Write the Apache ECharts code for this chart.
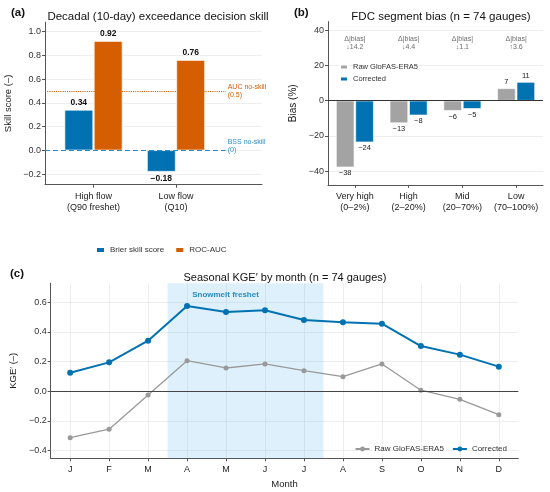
<!DOCTYPE html>
<html>
<head>
  <meta charset="utf-8">
  <title>echarts</title>
  <script src="https://cdn.jsdelivr.net/npm/echarts@6/dist/echarts.min.js"></script>
  <style type="text/css">
    body {
      margin: 0;
      padding: 0;
      background: #fff;
    }
    .chart-box {
      width: 550px;
      height: 492px;
    }
  </style>
</head>
<body>
<div id="main" class="chart-box"></div>
<script>
// panel (a): decadal exceedance decision skill
const A_CATEGORIES = ['High flow\n(Q90 freshet)', 'Low flow\n(Q10)'];
const A_BSS = [0.34, -0.18];
const A_AUC = [0.92, 0.76];
const A_TICKS = [-0.2, 0, 0.2, 0.4, 0.6, 0.8, 1.0];

// panel (b): FDC segment bias
const B_CATEGORIES = ['Very high\n(0\u20132%)', 'High\n(2\u201320%)', 'Mid\n(20\u201370%)', 'Low\n(70\u2013100%)'];
const B_RAW = [-37.8, -12.7, -5.7, 7.0];
const B_CORRECTED = [-23.6, -8.3, -4.6, 10.6];
const B_TICKS = [-40, -20, 0, 20, 40];

// panel (c): seasonal KGE' by month
const MONTHS = ['Jan', 'Feb', 'Mar', 'Apr', 'May', 'Jun', 'Jul', 'Aug', 'Sep', 'Oct', 'Nov', 'Dec'];
const C_RAW = [-0.313, -0.256, -0.025, 0.206, 0.157, 0.184, 0.139, 0.098, 0.184, 0.007, -0.054, -0.158];
const C_CORRECTED = [0.125, 0.195, 0.341, 0.575, 0.535, 0.546, 0.481, 0.465, 0.456, 0.305, 0.247, 0.166];
const C_TICKS = [-0.4, -0.2, 0, 0.2, 0.4, 0.6];

const BLUE = '#0072B2';
const ORANGE = '#D55E00';
const GREY = '#a3a3a3';
const AXIS = '#555';
const GRID = '#e6e6e6';
const FONT = '"Liberation Sans", Arial, sans-serif';

const minus = (s) => String(s).replace('-', '\u2212');

// |raw| - |corrected|, shown as arrow + magnitude
const B_DELTA = B_RAW.map((r, i) => {
  const d = Math.abs(r) - Math.abs(B_CORRECTED[i]);
  return 'Δ|bias|\n' + (d >= 0 ? '↓' : '↑') + Math.abs(d).toFixed(1);
});

const barData = (arr) => arr.map(v => ({
  value: v,
  label: {position: v < 0 ? 'bottom' : 'top'},
}));

const valueAxisBase = (grid, min, max, ticks, fmt) => ({
  gridIndex: grid,
  type: 'value',
  min: min,
  max: max,
  axisLine: {show: true, onZero: false, lineStyle: {color: AXIS, width: 1}},
  axisTick: {show: true, length: 3, lineStyle: {color: AXIS}, customValues: ticks},
  axisLabel: {fontSize: 9, color: '#333', margin: 4, customValues: ticks, formatter: fmt},
  splitLine: {show: true, lineStyle: {color: GRID, width: 0.7}},
});

const catLabel = {fontSize: 9, color: '#222', margin: 6, lineHeight: 11, interval: 0};

const option = {
  animation: false,
  backgroundColor: '#fff',
  textStyle: {fontFamily: FONT},
  title: [
    {text: '(a)', left: 6, top: 2, textStyle: {fontSize: 11.5, fontWeight: 'bold', color: '#111'}},
    {text: 'Decadal (10-day) exceedance decision skill', left: 153, top: 6, textAlign: 'center',
      textStyle: {fontSize: 11.5, fontWeight: 'normal', color: '#111'}},
    {text: '(b)', left: 289, top: 2, textStyle: {fontSize: 11.5, fontWeight: 'bold', color: '#111'}},
    {text: 'FDC segment bias (n = 74 gauges)', left: 436, top: 6, textAlign: 'center',
      textStyle: {fontSize: 11.5, fontWeight: 'normal', color: '#111'}},
    {text: '(c)', left: 5, top: 263, textStyle: {fontSize: 11.5, fontWeight: 'bold', color: '#111'}},
    {text: 'Seasonal KGE\u2032 by month (n = 74 gauges)', left: 280, top: 267, textAlign: 'center',
      textStyle: {fontSize: 11, fontWeight: 'normal', color: '#111'}},
  ],
  legend: [
    {
      left: 90, top: 241, itemWidth: 9, itemHeight: 6, itemGap: 10,
      textStyle: {fontSize: 8, color: '#333'},
      data: [{name: 'Brier skill score', icon: 'rect'}, {name: 'ROC-AUC', icon: 'rect'}],
    },
    {
      left: 334, top: 58, orient: 'vertical', itemWidth: 8, itemHeight: 5, itemGap: 4,
      textStyle: {fontSize: 7.5, color: '#333'},
      data: [{name: 'Raw GloFAS-ERA5', icon: 'rect'}, {name: 'Corrected', icon: 'rect'}],
    },
    {
      right: 38, top: 440, itemWidth: 14, itemHeight: 6, itemGap: 8,
      textStyle: {fontSize: 8, color: '#333'},
      formatter: (name) => name.trim(),
      data: ['Raw GloFAS-ERA5 ', 'Corrected '],
    },
  ],
  grid: [
    {left: 45, top: 22.1, width: 217, height: 162.6},
    {left: 52.25, top: 22.1, width: 165, height: 162.6},
    {left: 328, top: 21.6, width: 215, height: 163.3},
    {left: 41.7, top: 283.3, width: 476.6, height: 175},
  ],
  xAxis: [
    {gridIndex: 0, type: 'value', min: -0.59, max: 2.04,
      axisLine: {show: true, onZero: false, lineStyle: {color: AXIS, width: 1}},
      axisTick: {show: false}, axisLabel: {show: false}, splitLine: {show: false}},
    {gridIndex: 1, type: 'category', data: A_CATEGORIES,
      axisLine: {show: false, onZero: false},
      axisTick: {show: true, alignWithLabel: true, length: 3, lineStyle: {color: AXIS}},
      axisLabel: catLabel},
    {gridIndex: 2, type: 'category', data: B_CATEGORIES,
      axisLine: {show: true, onZero: false, lineStyle: {color: AXIS, width: 1}},
      axisTick: {show: true, alignWithLabel: true, length: 3, lineStyle: {color: AXIS}},
      axisLabel: catLabel},
    {gridIndex: 3, type: 'category', data: MONTHS,
      name: 'Month', nameLocation: 'middle', nameGap: 21, nameTextStyle: {fontSize: 9.5, color: '#222'},
      axisLine: {show: true, onZero: false, lineStyle: {color: AXIS, width: 1}},
      axisTick: {show: true, alignWithLabel: true, length: 3, lineStyle: {color: AXIS}},
      axisLabel: Object.assign({}, catLabel, {formatter: (m) => m[0]})},
    {gridIndex: 3, type: 'value', min: -0.5, max: 11.5, show: true,
      axisLine: {show: false, onZero: false}, axisTick: {show: false, customValues: MONTHS.map((m, i) => i)},
      axisLabel: {show: false},
      splitLine: {show: true, lineStyle: {color: GRID, width: 0.7}}},
  ],
  yAxis: [
    Object.assign(valueAxisBase(0, -0.29, 1.08, A_TICKS, (v) => minus(v.toFixed(1))), {
      name: 'Skill score (\u2013)', nameLocation: 'middle', nameGap: 32,
      nameTextStyle: {fontSize: 9.5, color: '#222'},
    }),
    {gridIndex: 1, type: 'value', min: -0.29, max: 1.08, show: false},
    Object.assign(valueAxisBase(2, -47.8, 44.9, B_TICKS, (v) => minus(v)), {
      name: 'Bias (%)', nameLocation: 'middle', nameGap: 30,
      nameTextStyle: {fontSize: 10, color: '#222'},
    }),
    Object.assign(valueAxisBase(3, -0.452, 0.728, C_TICKS, (v) => minus(v.toFixed(1))), {
      name: 'KGE\u2032 (\u2013)', nameLocation: 'middle', nameGap: 29,
      nameTextStyle: {fontSize: 9.5, color: '#222'},
    }),
  ],
  series: [
    // (a) no-skill reference lines on the wide frame
    {
      type: 'line', xAxisIndex: 0, yAxisIndex: 0, data: [], silent: true,
      markLine: {
        symbol: 'none', silent: true,
        data: [
          [{coord: [-0.59, 0.5], lineStyle: {color: ORANGE, type: 'dotted', width: 1.1},
            label: {color: ORANGE}}, {coord: [1.6, 0.5]}],
          [{coord: [-0.59, 0], lineStyle: {color: '#2b8cc4', type: [5, 3], width: 1.2},
            label: {color: '#2b8cc4', offset: [0, -4]}}, {coord: [1.6, 0]}],
        ],
        label: {
          show: true, position: 'end', distance: 2, fontSize: 7, lineHeight: 8.5, align: 'left',
          formatter: (p) => p.dataIndex === 0 ? 'AUC no-skill\n(0.5)' : 'BSS no-skill\n(0)',
        },
      },
    },
    {
      name: 'Brier skill score', type: 'bar', xAxisIndex: 1, yAxisIndex: 1,
      data: barData(A_BSS), barWidth: 28.5, barGap: '3%',
      itemStyle: {color: BLUE, borderColor: '#fff', borderWidth: 0.6},
      label: {show: true, distance: 3, fontSize: 8.5, fontWeight: 'bold', color: '#111',
        formatter: (p) => minus(p.value.toFixed(2))},
    },
    {
      name: 'ROC-AUC', type: 'bar', xAxisIndex: 1, yAxisIndex: 1,
      data: barData(A_AUC), barWidth: 28.5, barGap: '3%',
      itemStyle: {color: ORANGE, borderColor: '#fff', borderWidth: 0.6},
      label: {show: true, distance: 3, fontSize: 8.5, fontWeight: 'bold', color: '#111',
        formatter: (p) => minus(p.value.toFixed(2))},
    },
    // (b)
    {
      name: 'Raw GloFAS-ERA5', type: 'bar', xAxisIndex: 2, yAxisIndex: 2,
      data: barData(B_RAW), barWidth: 18.3, barGap: '6%',
      itemStyle: {color: GREY, borderColor: '#fff', borderWidth: 0.6},
      label: {show: true, distance: 2, fontSize: 7.5, color: '#222',
        formatter: (p) => minus(Math.round(p.value))},
      markLine: {
        symbol: 'none', silent: true, label: {show: false},
        lineStyle: {color: '#333', type: 'solid', width: 1},
        data: [{yAxis: 0}],
      },
    },
    {
      name: 'Corrected', type: 'bar', xAxisIndex: 2, yAxisIndex: 2,
      data: barData(B_CORRECTED), barWidth: 18.3, barGap: '6%',
      itemStyle: {color: BLUE, borderColor: '#fff', borderWidth: 0.6},
      label: {show: true, distance: 2, fontSize: 7.5, color: '#222',
        formatter: (p) => minus(Math.round(p.value))},
    },
    {
      type: 'scatter', xAxisIndex: 2, yAxisIndex: 2, symbolSize: 0, silent: true,
      data: B_DELTA.map(() => 32.7),
      label: {show: true, position: 'inside', fontSize: 7, lineHeight: 7.5, color: '#444',
        formatter: (p) => B_DELTA[p.dataIndex]},
    },
    // (c) freshet shading, zero line
    {
      type: 'line', xAxisIndex: 4, yAxisIndex: 3, data: [], silent: true,
      markArea: {
        silent: true,
        itemStyle: {color: 'rgba(86,180,233,0.2)'},
        label: {show: true, position: 'insideTop', offset: [-20, 2], fontSize: 8, fontWeight: 'bold',
          color: '#2b8cc4'},
        data: [[{name: 'Snowmelt freshet', xAxis: 2.5}, {xAxis: 6.5}]],
      },
      markLine: {
        symbol: 'none', silent: true, label: {show: false},
        lineStyle: {color: '#444', type: 'solid', width: 1},
        data: [{yAxis: 0}],
      },
    },
    {
      name: 'Raw GloFAS-ERA5 ', type: 'line', xAxisIndex: 3, yAxisIndex: 3,
      data: C_RAW, symbol: 'circle', symbolSize: 5,
      lineStyle: {color: '#999', width: 1.3}, itemStyle: {color: '#999'},
    },
    {
      name: 'Corrected ', type: 'line', xAxisIndex: 3, yAxisIndex: 3,
      data: C_CORRECTED, symbol: 'circle', symbolSize: 6,
      lineStyle: {color: BLUE, width: 2}, itemStyle: {color: BLUE},
    },
  ],
};

const myChart = echarts.init(document.getElementById('main'), null, {renderer: 'canvas'});
myChart.setOption(option);
window.addEventListener('resize', function () {
  myChart.resize();
});
</script>
</body>
</html>
